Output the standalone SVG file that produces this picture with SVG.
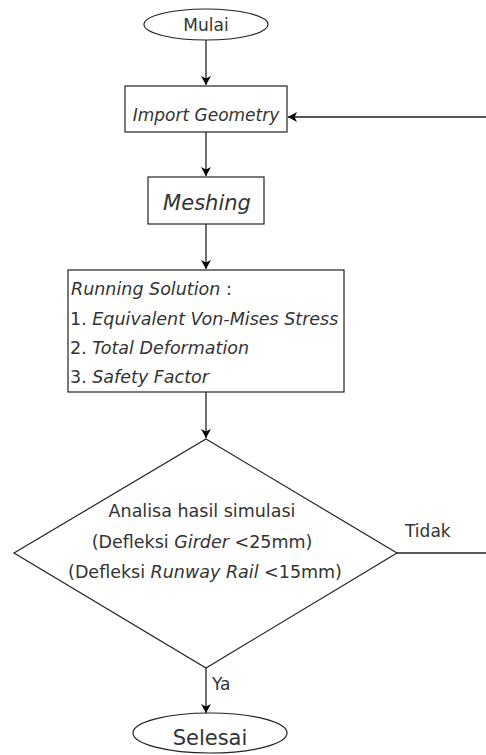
<svg xmlns="http://www.w3.org/2000/svg" width="486" height="755" viewBox="0 0 486 755">
<defs>
<marker id="arr" markerWidth="12" markerHeight="12" refX="10" refY="6" orient="auto" markerUnits="userSpaceOnUse">
<path d="M1,1 L10,6 L1,11 L3.5,6 Z" fill="#000"/>
</marker>
<style>
.s{fill:#fff;stroke:#222;stroke-width:1.2}
.t{font-family:"DejaVu Sans",Verdana,sans-serif;font-size:17px;fill:#333}
.l{font-size:17.5px}
.i{font-style:italic}
.b{font-size:21px}
.c{stroke:#222;stroke-width:1.3;fill:none}
</style>
</defs>
<rect width="486" height="755" fill="#fff"/>
<g id="connectors">
<path class="c" d="M206,40 V85" marker-end="url(#arr)"/>
<path class="c" d="M206,132 V176" marker-end="url(#arr)"/>
<path class="c" d="M206,224 V269" marker-end="url(#arr)"/>
<path class="c" d="M206,392 V438" marker-end="url(#arr)"/>
<path class="c" d="M206,668 V713" marker-end="url(#arr)"/>
<path class="c" d="M397,553 H486 M486,117 H288" marker-end="url(#arr)"/>
<text class="t" x="405" y="537">Tidak</text>
<text class="t" x="212" y="690">Ya</text>
</g>
<g id="mulai">
<ellipse class="s" cx="206" cy="24.5" rx="62" ry="15.5"/>
<text class="t" x="206" y="31" text-anchor="middle">Mulai</text>
</g>
<g id="import">
<rect class="s" x="125" y="86" width="162" height="46"/>
<text class="t i" x="206" y="121" text-anchor="middle">Import Geometry</text>
</g>
<g id="meshing">
<rect class="s" x="148" y="177" width="116" height="47"/>
<text class="t i b" x="207" y="210" text-anchor="middle">Meshing</text>
</g>
<g id="running">
<rect class="s" x="68" y="270" width="276" height="122"/>
<text class="t l" x="71" y="295"><tspan class="i">Running Solution</tspan> :</text>
<text class="t l" x="70" y="325">1. <tspan class="i">Equivalent Von-Mises Stress</tspan></text>
<text class="t l" x="70" y="354">2. <tspan class="i">Total Deformation</tspan></text>
<text class="t l" x="70" y="383">3. <tspan class="i">Safety Factor</tspan></text>
</g>
<g id="analisa">
<path class="s" d="M206,439 L397,553 L206,668 L14,553 Z"/>
<text class="t l" x="202" y="517" text-anchor="middle">Analisa hasil simulasi</text>
<text class="t l" x="202" y="548" text-anchor="middle">(Defleksi <tspan class="i">Girder</tspan> &lt;25mm)</text>
<text class="t l" x="205" y="578" text-anchor="middle">(Defleksi <tspan class="i">Runway Rail</tspan> &lt;15mm)</text>
</g>
<g id="selesai">
<ellipse class="s" cx="210" cy="733" rx="77" ry="20"/>
<text class="t b" x="210" y="745" text-anchor="middle">Selesai</text>
</g>
</svg>
